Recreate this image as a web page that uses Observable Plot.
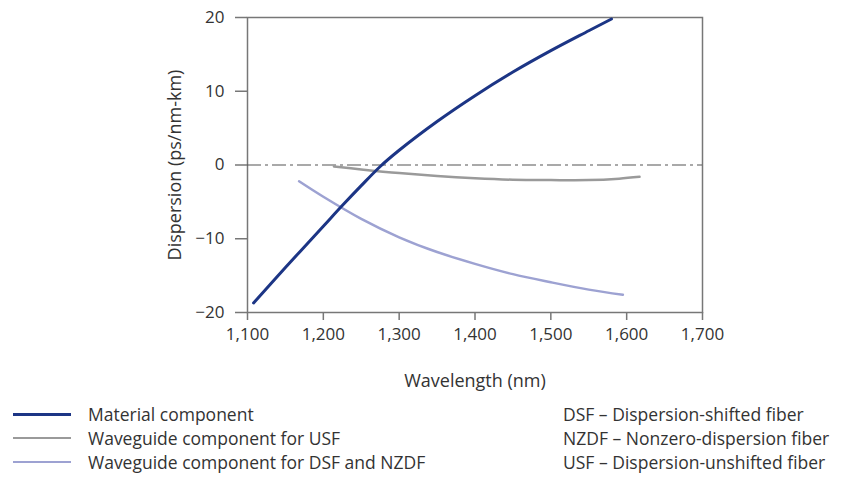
<!DOCTYPE html>
<html><head><meta charset="utf-8">
<script src="https://cdn.jsdelivr.net/npm/d3@7"></script>
<script src="https://cdn.jsdelivr.net/npm/@observablehq/plot@0.6"></script>
<style>
body{margin:0;background:#fff;font-family:"Open Sans",sans-serif;color:#333;}
#wrap{position:relative;width:858px;height:486px;overflow:hidden;}
.leg{position:absolute;font-size:17.5px;line-height:24px;color:#333;white-space:nowrap;}
.sw{position:absolute;width:58px;}
</style></head>
<body><div id="wrap"></div>
<script>
// Material component
const matWl  = [1108, 1150, 1200, 1225, 1250, 1275, 1300, 1350, 1400, 1450, 1500, 1550, 1580];
const matD   = [-18.7, -13.9, -8.3, -5.5, -2.8, -0.2, 2.0, 5.9, 9.4, 12.6, 15.5, 18.2, 19.8];
// Waveguide component for USF
const usfWl  = [1214, 1250, 1300, 1350, 1400, 1450, 1500, 1550, 1590, 1617];
const usfD   = [-0.2, -0.6, -1.1, -1.5, -1.8, -2.0, -2.05, -2.05, -1.85, -1.6];
// Waveguide component for DSF and NZDF
const dsfWl  = [1168, 1200, 1250, 1300, 1350, 1400, 1450, 1500, 1550, 1595];
const dsfD   = [-2.2, -4.3, -7.3, -9.8, -11.8, -13.4, -14.8, -15.9, -16.9, -17.6];

const xTicks = [1100, 1200, 1300, 1400, 1500, 1600, 1700];
const yTicks = [-20, -10, 0, 10, 20];
const xLabel = "Wavelength (nm)";
const yLabel = "Dispersion (ps/nm-km)";
const seriesNames = ["Material component", "Waveguide component for USF", "Waveguide component for DSF and NZDF"];
const seriesColors = ["#1c3585", "#9a9a9a", "#9da2d2"];
const abbrevs = ["DSF – Dispersion-shifted fiber", "NZDF – Nonzero-dispersion fiber", "USF – Dispersion-unshifted fiber"];

const toRows = (wl, d) => wl.map((w, i) => ({wl: w, d: d[i]}));
const mat = toRows(matWl, matD), usf = toRows(usfWl, usfD), dsf = toRows(dsfWl, dsfD);

const chart = Plot.plot({
  width: 858, height: 400,
  marginLeft: 247, marginRight: 156, marginTop: 17, marginBottom: 88,
  style: {fontFamily: "Open Sans, sans-serif", fontSize: "17px", color: "#333", background: "#fff"},
  x: {domain: [1100, 1700]},
  y: {domain: [-20, 20]},
  marks: [
    Plot.axisX({ticks: xTicks, tickFormat: d3.format(","), tickSize: 8, tickPadding: 7, stroke: "#777", strokeWidth: 1.5,
      label: null, fontSize: 17}),
    Plot.axisY({ticks: yTicks, tickFormat: d3.format(""), tickSize: 12, tickPadding: 11, stroke: "#777", strokeWidth: 1.5,
      label: null, fontSize: 17}),
    Plot.text([xLabel], {frameAnchor: "bottom", dy: 69, text: d => d, textAnchor: "middle", lineAnchor: "middle", fontSize: 18, fill: "#333"}),
    Plot.text([yLabel], {frameAnchor: "left", dx: -72, rotate: -90, text: d => d, textAnchor: "middle", lineAnchor: "middle", fontSize: 18, fill: "#333"}),
    Plot.frame({stroke: "#777", strokeWidth: 1.5}),
    Plot.ruleY([0], {stroke: "#555", strokeWidth: 1.2, strokeDasharray: "14,4,3,4"}),
    Plot.line(usf, {x: "wl", y: "d", stroke: seriesColors[1], strokeWidth: 2.5, curve: "catmull-rom"}),
    Plot.line(dsf, {x: "wl", y: "d", stroke: seriesColors[2], strokeWidth: 2.5, curve: "catmull-rom"}),
    Plot.line(mat, {x: "wl", y: "d", stroke: seriesColors[0], strokeWidth: 3, curve: "catmull-rom"})
  ]
});
const wrap = document.getElementById("wrap");
chart.style.position = "absolute"; chart.style.left = "0"; chart.style.top = "0";
wrap.appendChild(chart);

const rowY = [402, 426, 450];
seriesNames.forEach((n, i) => {
  const sw = document.createElement("div");
  sw.className = "sw";
  sw.style.left = "13px"; sw.style.top = (rowY[i] + 12 - (i === 0 ? 1.5 : 1)) + "px";
  sw.style.borderTop = (i === 0 ? 3 : 2.5) + "px solid " + seriesColors[i];
  wrap.appendChild(sw);
  const t = document.createElement("div");
  t.className = "leg"; t.style.left = "88px"; t.style.top = rowY[i] + "px"; t.textContent = n;
  wrap.appendChild(t);
  const a = document.createElement("div");
  a.className = "leg"; a.style.left = "563px"; a.style.top = rowY[i] + "px"; a.textContent = abbrevs[i];
  wrap.appendChild(a);
});
</script></body></html>
